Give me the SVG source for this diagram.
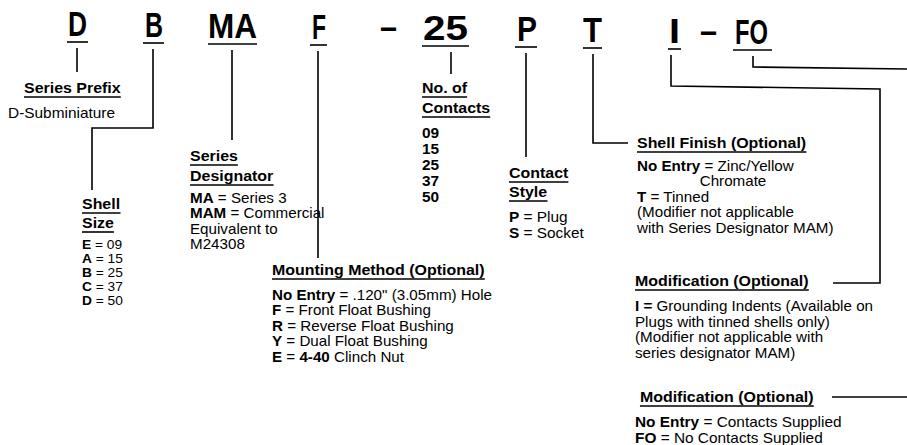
<svg xmlns="http://www.w3.org/2000/svg" width="907" height="445" viewBox="0 0 907 445">
<style>
.code{font-family:"Liberation Sans",Arial,sans-serif;font-weight:bold;font-size:35px;fill:#000}
.lbl{font-family:"Liberation Sans",Arial,sans-serif;font-weight:bold;font-size:14.5px;fill:#000}
.txt{font-family:"Liberation Sans",Arial,sans-serif;font-size:14px;fill:#000}
.sm{font-size:12.5px}
.md{font-size:13.8px}
.num{font-family:"Liberation Sans",Arial,sans-serif;font-weight:bold;font-size:14px;fill:#000}
.b{font-weight:bold}
.ul{stroke:#000;stroke-width:1.6;fill:none}
.wire{stroke:#000;stroke-width:1.6;fill:none}
</style>
<rect width="907" height="445" fill="#fff"/>

<g id="code">
  <g id="code-D"><text class="code" x="68" y="36" textLength="19" lengthAdjust="spacingAndGlyphs">D</text><line class="ul" x1="67" y1="42" x2="88" y2="42"/></g>
  <g id="code-B"><text class="code" x="145" y="37" textLength="18" lengthAdjust="spacingAndGlyphs">B</text><line class="ul" x1="143" y1="43" x2="164" y2="43"/></g>
  <g id="code-MA"><text class="code" x="208" y="38" textLength="49" lengthAdjust="spacingAndGlyphs">MA</text><line class="ul" x1="208" y1="44" x2="257" y2="44"/></g>
  <g id="code-F"><text class="code" x="312" y="39" textLength="14" lengthAdjust="spacingAndGlyphs">F</text><line class="ul" x1="310" y1="45" x2="327" y2="45"/></g>
  <g id="code-dash1"><text class="code" x="380" y="39" textLength="17" lengthAdjust="spacingAndGlyphs">–</text></g>
  <g id="code-25"><text class="code" x="423" y="40" textLength="45" lengthAdjust="spacingAndGlyphs">25</text><line class="ul" x1="422" y1="46" x2="469" y2="46"/></g>
  <g id="code-P"><text class="code" x="517" y="41" textLength="20" lengthAdjust="spacingAndGlyphs">P</text><line class="ul" x1="515" y1="47" x2="537" y2="47"/></g>
  <g id="code-T"><text class="code" x="583" y="42" textLength="19" lengthAdjust="spacingAndGlyphs">T</text><line class="ul" x1="583" y1="48" x2="602" y2="48"/></g>
  <g id="code-I"><text class="code" x="669" y="43" textLength="11" lengthAdjust="spacingAndGlyphs">I</text><line class="ul" x1="668" y1="49" x2="681" y2="49"/></g>
  <g id="code-dash2"><text class="code" x="700" y="43" textLength="17" lengthAdjust="spacingAndGlyphs">–</text></g>
  <g id="code-FO"><text class="code" x="735" y="44" textLength="33" lengthAdjust="spacingAndGlyphs">FO</text><line class="ul" x1="733" y1="50" x2="772" y2="50"/></g>
</g>

<g id="connectors">
  <path class="wire" d="M77,48 V72"/>
  <path class="wire" d="M153,49 V128 H92 V190"/>
  <path class="wire" d="M232,50 V140"/>
  <path class="wire" d="M318,51 V258"/>
  <path class="wire" d="M451,52 V74"/>
  <path class="wire" d="M526,53 V157"/>
  <path class="wire" d="M593,54 V143 H628"/>
  <path class="wire" d="M671,55 V86 L880,89 V283 H833"/>
  <path class="wire" d="M753,56 V67 L907,69"/>
  <path class="wire" d="M832,397 H907"/>
</g>

<g id="series-prefix" transform="translate(24,0) scale(1.1,1)">
  <text class="lbl" x="0" y="93">Series Prefix</text><line class="ul" x1="0" y1="97" x2="88" y2="97"/>
  <text class="txt" x="-14.5" y="118">D-Subminiature</text>
</g>

<g id="shell-size" transform="translate(82,0) scale(1.1,1)">
  <text class="lbl" x="0" y="209">Shell</text><line class="ul" x1="0" y1="213" x2="35" y2="213"/>
  <text class="lbl" x="0" y="228">Size</text><line class="ul" x1="0" y1="232" x2="29" y2="232"/>
  <text class="txt sm" x="0" y="249"><tspan class="b">E</tspan> = 09</text>
  <text class="txt sm" x="0" y="263"><tspan class="b">A</tspan> = 15</text>
  <text class="txt sm" x="0" y="277"><tspan class="b">B</tspan> = 25</text>
  <text class="txt sm" x="0" y="291"><tspan class="b">C</tspan> = 37</text>
  <text class="txt sm" x="0" y="305"><tspan class="b">D</tspan> = 50</text>
</g>

<g id="series-designator" transform="translate(190,0) scale(1.1,1)">
  <text class="lbl" x="0" y="161">Series</text><line class="ul" x1="0" y1="165" x2="43.5" y2="165"/>
  <text class="lbl" x="0" y="181">Designator</text><line class="ul" x1="0" y1="185" x2="76" y2="185"/>
  <text class="txt md" x="0" y="203"><tspan class="b">MA</tspan> = Series 3</text>
  <text class="txt md" x="0" y="218.5"><tspan class="b">MAM</tspan> = Commercial</text>
  <text class="txt md" x="0" y="234">Equivalent to</text>
  <text class="txt md" x="0" y="249.5">M24308</text>
</g>

<g id="mounting-method" transform="translate(272,0) scale(1.1,1)">
  <text class="lbl" x="0" y="275">Mounting Method (Optional)</text><line class="ul" x1="0" y1="279" x2="193.5" y2="279"/>
  <text class="txt md" x="0" y="300"><tspan class="b">No Entry</tspan> =  .120" (3.05mm) Hole</text>
  <text class="txt md" x="0" y="315.5"><tspan class="b">F</tspan> = Front Float Bushing</text>
  <text class="txt md" x="0" y="331"><tspan class="b">R</tspan> = Reverse Float Bushing</text>
  <text class="txt md" x="0" y="346.5"><tspan class="b">Y</tspan> = Dual Float Bushing</text>
  <text class="txt md" x="0" y="362"><tspan class="b">E</tspan> = <tspan class="b">4-40</tspan> Clinch Nut</text>
</g>

<g id="no-of-contacts" transform="translate(422,0) scale(1.1,1)">
  <text class="lbl" x="0" y="93">No. of</text><line class="ul" x1="0" y1="97" x2="41" y2="97"/>
  <text class="lbl" x="0" y="113">Contacts</text><line class="ul" x1="0" y1="117" x2="62" y2="117"/>
  <text class="num" x="0" y="138">09</text>
  <text class="num" x="0" y="154">15</text>
  <text class="num" x="0" y="170">25</text>
  <text class="num" x="0" y="186">37</text>
  <text class="num" x="0" y="202">50</text>
</g>

<g id="contact-style" transform="translate(509,0) scale(1.1,1)">
  <text class="lbl" x="0" y="178">Contact</text><line class="ul" x1="0" y1="182" x2="54" y2="182"/>
  <text class="lbl" x="0" y="197">Style</text><line class="ul" x1="0" y1="201" x2="35" y2="201"/>
  <text class="txt" x="0" y="222"><tspan class="b">P</tspan> = Plug</text>
  <text class="txt" x="0" y="238"><tspan class="b">S</tspan> = Socket</text>
</g>

<g id="shell-finish" transform="translate(637,0) scale(1.1,1)">
  <text class="lbl" x="0" y="148">Shell Finish (Optional)</text><line class="ul" x1="0" y1="152" x2="154" y2="152"/>
  <text class="txt md" x="0" y="171"><tspan class="b">No Entry</tspan> = Zinc/Yellow</text>
  <text class="txt md" x="57" y="186.5">Chromate</text>
  <text class="txt md" x="0" y="202"><tspan class="b">T</tspan> = Tinned</text>
  <text class="txt md" x="0" y="217.5">(Modifier not applicable</text>
  <text class="txt md" x="0" y="233">with Series Designator MAM)</text>
</g>

<g id="modification-1" transform="translate(635,0) scale(1.1,1)">
  <text class="lbl" x="0" y="286">Modification (Optional)</text><line class="ul" x1="0" y1="290" x2="158" y2="290"/>
  <text class="txt md" x="0" y="311"><tspan class="b">I =</tspan> Grounding Indents (Available on</text>
  <text class="txt md" x="0" y="326.7">Plugs with tinned shells only)</text>
  <text class="txt md" x="0" y="342.4">(Modifier not applicable with</text>
  <text class="txt md" x="0" y="358">series designator MAM)</text>
</g>

<g id="modification-2" transform="translate(635,0) scale(1.1,1)">
  <text class="lbl" x="4.5" y="402">Modification (Optional)</text><line class="ul" x1="4.5" y1="406" x2="162.5" y2="406"/>
  <text class="txt" x="0" y="427"><tspan class="b">No Entry</tspan> = Contacts Supplied</text>
  <text class="txt" x="0" y="443"><tspan class="b">FO</tspan> = No Contacts Supplied</text>
</g>
</svg>
